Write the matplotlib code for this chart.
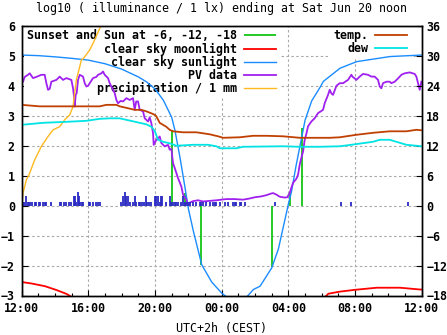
import matplotlib
matplotlib.use("Agg")
import matplotlib.pyplot as plt
from matplotlib.ticker import MultipleLocator

# time axis: hours after Fri Jun 19 12:00 (UTC+2)
tick_hours = [0, 4, 8, 12, 16, 20, 24]
tick_labels = ["12:00", "16:00", "20:00", "00:00", "04:00", "08:00", "12:00"]

# clear sky sunlight, log10 lx
sun_h = [0.0, 1.0, 2.0, 3.0, 4.0, 5.0, 6.0, 7.0, 7.5, 8.0, 8.5, 9.0, 9.2, 9.5,
         9.8, 10.0, 10.3, 10.8, 11.4, 12.0, 12.3, 13.5, 13.9, 14.3, 15.0, 15.4,
         15.8, 16.0, 16.2, 16.45, 16.7, 17.0, 17.4, 17.9, 18.1, 19.1, 20.1,
         22.1, 24.0]
sun_v = [5.03, 5.01, 4.97, 4.92, 4.86, 4.74, 4.56, 4.3, 4.13, 3.9, 3.52, 2.95,
         2.5, 1.6, 0.6, -0.1, -0.85, -1.97, -2.55, -2.92, -3.05, -3.05, -2.8,
         -2.69, -2.08, -1.45, -0.45, 0.05, 0.5, 1.3, 2.0, 2.85, 3.5, 3.95, 4.15,
         4.59, 4.81, 4.98, 5.03]

# clear sky moonlight, log10 lx
moon_h = [0.0, 0.6, 1.4, 2.1, 2.7, 3.0, 18.2, 18.4, 19.1, 20.0, 21.3, 22.7,
          23.9, 24.0]
moon_v = [-2.55, -2.6, -2.69, -2.82, -2.95, -3.05, -3.05, -2.94, -2.87, -2.81,
          -2.74, -2.74, -2.8, -2.8]

# PV data, log10 lx
pv_h = [0.0, 0.08, 0.18, 0.38, 0.48, 0.68, 0.88, 1.18, 1.38, 1.48, 1.58, 1.68,
        1.78, 2.08, 2.28, 2.48, 2.68, 2.98, 3.08, 3.15, 3.18, 3.24, 3.3, 3.38,
        3.48, 3.68, 3.78, 3.88, 3.98, 4.08, 4.28, 4.48, 4.58, 4.78, 4.88, 4.98,
        5.18, 5.28, 5.38, 5.58, 5.68, 5.78, 5.94, 6.08, 6.28, 6.48, 6.68, 6.78,
        6.87, 6.98, 7.08, 7.28, 7.38, 7.58, 7.68, 7.78, 7.88, 7.92, 8.08, 8.18,
        8.28, 8.38, 8.58, 8.78, 8.88, 8.98, 9.08, 9.18, 9.38, 9.58, 9.68, 9.88,
        9.98, 10.08, 10.28, 10.58, 10.88, 11.28, 11.68, 11.98, 12.28, 12.78,
        13.28, 13.68, 13.98, 14.38, 14.68, 14.94, 15.08, 15.28, 15.48, 15.78,
        15.93, 16.08, 16.18, 16.28, 16.48, 16.58, 16.68, 16.78, 16.88, 16.98,
        17.08, 17.18, 17.38, 17.58, 17.78, 17.94, 18.08, 18.18, 18.38, 18.48,
        18.58, 18.68, 18.88, 19.08, 19.28, 19.58, 19.78, 19.86, 19.98, 20.08,
        20.28, 20.48, 20.78, 20.98, 21.18, 21.38, 21.48, 21.58, 21.68, 21.88,
        22.08, 22.18, 22.38, 22.58, 22.78, 22.98, 23.28, 23.58, 23.68, 23.78,
        23.88, 23.98]
pv_v = [4.1, 4.14, 4.3, 4.37, 4.42, 4.26, 4.3, 4.37, 4.37, 4.09, 3.87, 3.9,
        4.14, 4.2, 4.31, 4.2, 4.26, 4.2, 3.92, 3.6, 3.31, 3.7, 3.76, 4.2, 4.37,
        4.31, 4.09, 3.98, 4.0, 4.09, 4.26, 4.3, 4.37, 4.42, 4.48, 4.37, 4.26,
        4.09, 3.98, 3.76, 3.53, 3.42, 3.5, 3.48, 3.59, 3.53, 3.59, 3.2, 3.48,
        3.48, 3.2, 3.15, 2.92, 2.81, 2.95, 2.75, 2.42, 2.03, 2.2, 2.25, 2.31,
        2.09, 1.98, 2.03, 1.87, 1.9, 1.42, 1.26, 0.92, 0.64, 0.37, 0.2, 0.03,
        0.1, 0.15, 0.18, 0.14, 0.16, 0.18, 0.2, 0.22, 0.22, 0.2, 0.24, 0.28,
        0.31, 0.35, 0.4, 0.42, 0.37, 0.3, 0.27, 0.28, 0.42, 0.6, 0.76, 0.9,
        1.03, 1.37, 1.6, 1.8, 2.2, 2.4, 2.65, 2.81, 2.92, 3.09, 3.15, 3.2, 3.42,
        3.7, 3.87, 3.75, 3.7, 4.0, 4.09, 4.09, 4.2, 4.37, 4.3, 4.25, 4.2, 4.31,
        4.4, 4.37, 4.31, 4.31, 4.2, 3.98, 3.92, 4.09, 4.14, 4.14, 4.09, 4.14,
        4.25, 4.37, 4.42, 4.45, 4.4, 4.31, 4.09, 3.87, 4.14]

# accumulated precipitation, mm
rain_h = [0.0, 0.08, 0.18, 0.28, 0.44, 0.78, 1.18, 1.58, 1.88, 2.28, 2.58,
          2.88, 3.08, 3.18, 3.28, 3.38, 3.48, 3.58, 3.68, 4.08, 4.28, 4.68,
          4.78, 5.88, 5.98]
rain_v = [0.0, 0.42, 0.64, 0.87, 1.03, 1.53, 1.98, 2.31, 2.53, 2.64, 2.87,
          3.03, 3.31, 3.76, 4.2, 4.42, 4.64, 4.87, 4.9, 5.2, 5.42, 5.92, 6.0,
          6.0, 6.4]

# precipitation rate impulses
rate_h = [0.04, 0.14, 0.24, 0.38, 0.44, 0.52, 0.64, 0.78, 0.88, 1.04, 1.12,
          1.28, 1.38, 1.48, 1.78, 2.28, 2.38, 2.52, 2.68, 2.84, 2.98, 3.12,
          3.2, 3.28, 3.36, 3.44, 3.52, 3.62, 3.68, 4.04, 4.12, 4.28, 4.44,
          4.58, 4.72, 5.98, 6.08, 6.18, 6.28, 6.38, 6.48, 6.68, 6.78, 6.88,
          7.04, 7.12, 7.24, 7.32, 7.44, 7.54, 7.64, 7.78, 7.98, 8.08, 8.18,
          8.28, 8.38, 8.44, 8.68, 8.88, 8.98, 9.08, 9.18, 9.28, 9.38, 9.58,
          9.68, 9.78, 9.88, 9.98, 10.08, 10.28, 10.48, 10.68, 10.78, 10.88,
          11.08, 11.28, 11.48, 11.58, 11.68, 11.88, 12.18, 12.38, 12.68,
          12.78, 12.88, 13.08, 13.18, 13.38, 15.18, 19.18, 19.78, 23.18]
rate_v = [0.13, 0.13, 0.31, 0.13, 0.13, 0.13, 0.13, 0.13, 0.13, 0.13, 0.13,
          0.13, 0.13, 0.13, 0.13, 0.13, 0.13, 0.13, 0.13, 0.13, 0.13, 0.31,
          0.31, 0.13, 0.44, 0.31, 0.13, 0.13, 0.13, 0.13, 0.13, 0.13, 0.13,
          0.13, 0.13, 0.13, 0.31, 0.44, 0.31, 0.31, 0.13, 0.13, 0.31, 0.13,
          0.13, 0.13, 0.13, 0.13, 0.31, 0.13, 0.13, 0.13, 0.31, 0.31, 0.31,
          0.13, 0.31, 0.31, 0.13, 0.31, 0.13, 0.13, 0.13, 0.13, 0.13, 0.13,
          0.31, 0.13, 0.13, 0.13, 0.13, 0.13, 0.13, 0.13, 0.13, 0.13, 0.13,
          0.13, 0.13, 0.13, 0.13, 0.13, 0.13, 0.13, 0.13, 0.13, 0.13, 0.13,
          0.13, 0.13, 0.13, 0.13, 0.13, 0.13]

# sunset and sun at -6, -12, -18 deg (evening, then morning)
event_h = [9.03, 9.78, 10.78, 15.02, 16.12, 16.82]
event_v = [2.53, 0.43, -1.97, -2.05, 0.45, 2.6]

# temperature and dew point, deg C
temp_h = [0.0, 1.08, 4.68, 5.08, 5.68, 5.88, 6.28, 6.78, 7.18, 7.48, 7.78,
          7.98, 8.08, 8.28, 8.48, 8.68, 8.88, 9.08, 9.68, 10.48, 10.88, 11.28,
          11.78, 12.08, 13.08, 13.88, 14.68, 15.68, 16.68, 16.98, 18.48,
          19.08, 20.08, 21.08, 22.08, 23.08, 23.68, 24.0]
temp_c = [20.2, 19.9, 19.9, 20.2, 20.2, 19.9, 19.6, 19.2, 19.2, 18.9, 18.5,
          18.2, 17.9, 16.6, 16.2, 15.8, 15.2, 14.9, 14.7, 14.7, 14.5, 14.3,
          13.9, 13.6, 13.7, 14.0, 14.0, 13.9, 13.6, 13.6, 13.6, 13.7, 14.2,
          14.6, 14.9, 14.9, 15.2, 15.1]
dew_h = [0.0, 1.28, 2.68, 3.88, 4.68, 5.28, 5.88, 6.28, 7.08, 7.48, 7.78,
         7.98, 8.18, 8.48, 8.88, 9.28, 10.28, 11.18, 11.68, 11.88, 12.88,
         13.28, 15.68, 16.68, 17.88, 19.08, 19.78, 21.08, 21.48, 22.08, 22.48,
         23.08, 24.0]
dew_c = [16.2, 16.6, 16.8, 17.0, 17.4, 17.5, 17.5, 17.2, 16.6, 16.3, 15.8,
         15.0, 13.2, 12.8, 12.5, 12.0, 12.2, 12.2, 11.9, 11.5, 11.5, 11.8,
         11.9, 11.8, 11.8, 11.9, 12.2, 12.8, 13.2, 13.2, 12.8, 12.2, 11.9]

plt.rcParams["font.family"] = ["DejaVu Sans Mono"]
plt.rcParams["font.weight"] = "bold"
plt.rcParams["font.size"] = 8.4

fig = plt.figure(figsize=(4.47, 3.35), dpi=100)
ax = fig.add_axes([21.7 / 447, 39.5 / 335, 400 / 447, 269.5 / 335])

ax.vlines(event_h, 0, event_v, color="#00c000", lw=1.2,
          label="Sunset and Sun at -6, -12, -18")
ax.plot(moon_h, moon_v, color="#ff0000", lw=1.3, label="clear sky moonlight")
ax.plot(sun_h, sun_v, color="#1a8cff", lw=1.0, label="clear sky sunlight")
ax.plot(pv_h, pv_v, color="#a020f0", lw=1.3, label="PV data")
ax.plot(rain_h, rain_v, color="#ffb820", lw=1.0, label="precipitation / 1 mm")
ax.vlines(rate_h, 0, rate_v, color="#2a2ac4", lw=1.3)

ax.set_xlim(0, 24)
ax.set_ylim(-3, 6)
ax.set_xticks(tick_hours)
ax.set_xticklabels(tick_labels)
ax.xaxis.set_minor_locator(MultipleLocator(1))
ax.yaxis.set_major_locator(MultipleLocator(1))
ax.tick_params(which="both", direction="in", top=False, right=False)
ax.tick_params(which="major", length=4, width=0.8)
ax.tick_params(which="minor", length=2.2, width=0.8)
ax.tick_params(axis="x", pad=4.5)
ax.tick_params(axis="y", pad=5)
ax.set_axisbelow(True)
ax.grid(True, color="#a8a8a8", lw=0.8, ls=(0, (2.2, 2.2)))
for s in ax.spines.values():
    s.set_linewidth(1.0)

ax.set_title("log10 ( illuminance / 1 lx) ending at Sat Jun 20 noon",
             fontsize=8.4, pad=10)
ax.set_xlabel("UTC+2h (CEST)", labelpad=5)

ax2 = ax.twinx()
ax2.plot(temp_h, temp_c, color="#c04000", lw=1.3, label="temp.")
ax2.plot(dew_h, dew_c, color="#00e4e4", lw=1.3, label="dew")
ax2.set_ylim(-18, 36)
ax2.yaxis.set_major_locator(MultipleLocator(6))
ax2.tick_params(direction="in", length=4, width=0.8, pad=3.3)
for s in ax2.spines.values():
    s.set_linewidth(1.0)

key_opts = dict(frameon=True, fancybox=False, framealpha=1, facecolor="white",
                edgecolor="none", markerfirst=False, handlelength=2.75,
                handletextpad=0.6, labelspacing=0.0, borderpad=0.3,
                borderaxespad=0)
h1, l1 = ax.get_legend_handles_labels()
h2, l2 = ax2.get_legend_handles_labels()
key_left = ax.legend(h1, l1, loc="upper right", bbox_to_anchor=(0.645, 1.0),
                     **key_opts)
key_left.set_zorder(1)
ax.add_artist(key_left)
key_right = ax.legend(h2, l2, loc="upper right", bbox_to_anchor=(0.9725, 1.0),
                      **key_opts)
key_right.set_zorder(1)

fig.savefig("out.png", dpi=100)
